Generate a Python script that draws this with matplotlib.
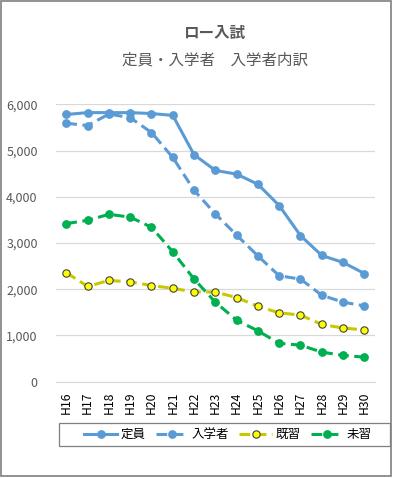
import matplotlib
matplotlib.use("Agg")
import matplotlib.pyplot as plt

plt.rcParams['font.family'] = ['Noto Sans CJK JP', 'DejaVu Sans']

# 年度
years = ["H16", "H17", "H18", "H19", "H20", "H21", "H22", "H23",
         "H24", "H25", "H26", "H27", "H28", "H29", "H30"]

# 定員
teiin = [5780, 5820, 5820, 5820, 5800, 5760, 4910, 4570,
         4490, 4270, 3810, 3160, 2730, 2580, 2340]
# 入学者
nyugaku = [5590, 5540, 5790, 5710, 5390, 4850, 4140, 3630,
           3170, 2720, 2290, 2220, 1870, 1720, 1640]
# 既習
kishu = [2360, 2060, 2190, 2160, 2080, 2020, 1940, 1940,
         1820, 1630, 1490, 1440, 1240, 1160, 1120]
# 未習
mishu = [3420, 3490, 3620, 3560, 3340, 2810, 2220, 1720,
         1330, 1100, 830, 790, 640, 570, 530]

W, H = 393, 478
fig = plt.figure(figsize=(W / 100, H / 100), dpi=100)
ax = fig.add_axes([55.7 / W, 1 - 381.7 / H, (375 - 55.7) / W, (381.7 - 104.3) / H])

x = list(range(len(years)))
blue = '#5B9BD5'
lw = 2.2
ax.plot(x, teiin, color=blue, lw=lw, marker='o', ms=5.3, label='定員')
ax.plot(x, nyugaku, color=blue, lw=lw, marker='o', ms=5.3, dashes=(3.5, 1.8), label='入学者')
ax.plot(x, kishu, color='#C8C800', lw=lw, marker='o', ms=5.3, dashes=(3.5, 1.8),
        markerfacecolor='#FFFF00', markeredgecolor='#404040', markeredgewidth=0.8, label='既習')
ax.plot(x, mishu, color='#00B050', lw=lw, marker='o', ms=5.3, dashes=(3.5, 1.8), label='未習')

ax.set_xlim(-0.5, len(years) - 0.5)
ax.set_ylim(0, 6000)
ax.set_yticks(range(0, 7000, 1000))
ax.set_yticklabels([f"{v:,}" for v in range(0, 7000, 1000)])
ax.set_xticks(x)
ax.set_xticklabels(years, rotation=90)
ax.grid(axis='y', color='#D9D9D9', lw=0.9)
ax.set_axisbelow(True)
for s in ['top', 'right', 'left']:
    ax.spines[s].set_visible(False)
ax.spines['bottom'].set_color('#D9D9D9')
ax.tick_params(axis='y', length=0, pad=13, labelsize=9, labelcolor='#595959')
ax.tick_params(axis='x', length=0, pad=7, labelsize=8.8, labelcolor='black')

fig.text(214 / W, 1 - 33 / H, 'ロー入試', ha='center', va='center',
         fontsize=11.2, fontweight='bold', color='#595959')
fig.text(215 / W, 1 - 60 / H, '定員・入学者　入学者内訳', ha='center', va='center',
         fontsize=11.2, color='#595959')

# 凡例（枠は別に描く）
leg = ax.legend(ncol=4, loc='center', borderaxespad=0, borderpad=0,
                bbox_to_anchor=(228 / W, 1 - 434.5 / H),
                bbox_transform=fig.transFigure, frameon=False,
                handlelength=2.6, fontsize=9, handletextpad=0.3, columnspacing=0.8)
frame = plt.Rectangle((59 / W, 1 - 446 / H), 331 / W, 23 / H, transform=fig.transFigure,
                      fill=False, edgecolor='#7F7F7F', lw=0.9)
fig.patches.append(frame)

border = plt.Rectangle((1 / W, 2 / H), 390 / W, 475 / H, transform=fig.transFigure,
                       fill=False, edgecolor='#7F7F7F', lw=1.2)
fig.patches.append(border)

fig.savefig('out.png', dpi=100)
